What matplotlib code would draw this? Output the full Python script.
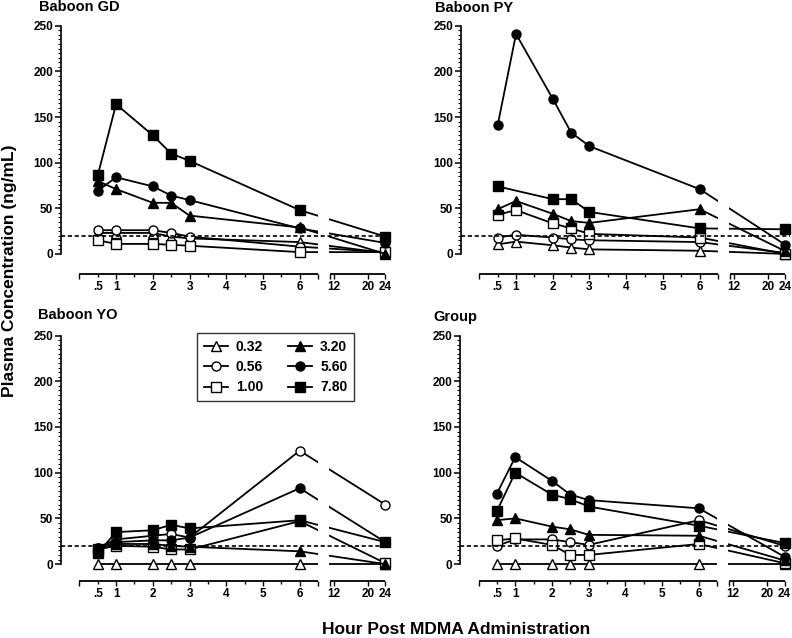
import numpy as np
import matplotlib
matplotlib.use('Agg')
import matplotlib.pyplot as plt
from matplotlib.ticker import FixedLocator, FixedFormatter

plt.rcParams['font.family'] = ['Liberation Sans', 'DejaVu Sans']
plt.rcParams['font.weight'] = 'bold'

# sample times (h) and doses
times = [0.5, 1, 2, 2.5, 3, 6, 24]
doses = ['0.32', '0.56', '1.00', '3.20', '5.60', '7.80']

# plasma concentration (ng/mL), one row per dose
gd_vals = [
    [23, 23, 23, 19, 17, 13, 1],
    [26, 26, 26, 23, 19, 8, 2],
    [15, 11, 11, 10, 9, 2, 2],
    [80, 71, 56, 56, 42, 29, 0],
    [69, 84, 74, 64, 59, 28, 12],
    [86, 164, 130, 110, 102, 48, 19],
]
py_vals = [
    [10.5, 13.5, 9.5, 7, 5, 3.5, 0],
    [18, 21, 18, 16, 15, 13, 1],
    [43, 48, 33.5, 28, 22, 18, 0],
    [49, 58, 44, 36, 34, 49, 3],
    [141, 241, 170, 133, 118, 71, 10],
    [74, np.nan, 60, 60, 46, 28, 27],
]
yo_vals = [
    [0, 0, 0, 0, 0, 0, 0],
    [18, 27, 31, 33, 29, 124, 65],
    [16, 20, 19, 16, 16, 47, 1],
    [16, 22, 22, 20, 19, 14, 0],
    [18, 24, 26, 26, 29, 83, 24],
    [12, 35, 37, 43, 39, 48, 24],
]
group_vals = [
    [0, 0, 0, 0, 0, 0, 0],
    [20, 27, 27, 24, 21, 48, 20],
    [26, 28, 21, 10, 10, 22, 1],
    [48, 50, 41, 38, 32, 31, 4],
    [77, 117, 91, 76, 70, 61, 8],
    [58, 100, 76, 71, 63, 42, 23],
]
threshold = 20

markers = ['^', 'o', 's', '^', 'o', 's']
faces = ['white', 'white', 'white', 'black', 'black', 'black']
msizes = [7, 6.5, 6.5, 7, 6.5, 6.5]

# broken x axis: 0-6.5 h linear, then 11.1-24 h compressed
A, B, GAPU, K = 6.5, 11.1, 0.33, 0.1165


def fwd(x):
    x = np.asarray(x, dtype=float)
    return np.where(x <= A, x,
                    np.where(x < B, A + (x - A) * GAPU / (B - A),
                             A + GAPU + (x - B) * K))


def inv(u):
    u = np.asarray(u, dtype=float)
    return np.where(u <= A, u,
                    np.where(u < A + GAPU, A + (u - A) * (B - A) / GAPU,
                             B + (u - A - GAPU) / K))


fig = plt.figure(figsize=(7.92, 6.38), dpi=100)

panels = [
    ('Baboon GD', gd_vals, [0.077, 0.5705, 0.415, 0.392], (-22, 252), (39, 7)),
    ('Baboon PY', py_vals, [0.582, 0.5705, 0.415, 0.392], (-22, 252), (435, 8)),
    ('Baboon YO', yo_vals, [0.077, 0.0886, 0.415, 0.3884], (-19, 252), (38, 315)),
    ('Group', group_vals, [0.581, 0.0886, 0.415, 0.3884], (-19, 252), (433, 317)),
]

axes = []
for title, vals, pos, ylim, tpos in panels:
    ax = fig.add_axes(pos)
    ax.set_xscale('function', functions=(fwd, inv))
    ax.set_xlim(float(inv(-0.5)), float(inv(8.45)))
    ax.set_ylim(*ylim)

    for i in range(len(doses)):
        y = np.array(vals[i], dtype=float)
        t = np.array(times)
        ok = np.isfinite(y)
        ax.plot(t[ok], y[ok], color='black', lw=1.3, marker=markers[i],
                ms=msizes[i], mfc=faces[i], mec='black', mew=1.0,
                label=doses[i], zorder=2 + i * 0.01, clip_on=False)

    # gap where the axis is broken
    ax.axvspan(6.55, 10.75, ymin=0.02, ymax=1, color='white', lw=0, zorder=2.8)
    ax.axhline(threshold, color='black', lw=1.2, ls=(0, (2.5, 1.6)), zorder=3)

    for s in ['top', 'right', 'bottom']:
        ax.spines[s].set_visible(False)
    ax.spines['left'].set_bounds(0, 250)
    ax.spines['left'].set_linewidth(1.2)
    # the two x-axis segments along the bottom of the axes
    ax.plot([0, A], [ylim[0], ylim[0]], color='black', lw=1.3, clip_on=False,
            solid_capstyle='butt', zorder=3)
    ax.plot([B, 24], [ylim[0], ylim[0]], color='black', lw=1.3, clip_on=False,
            solid_capstyle='butt', zorder=3)

    ax.yaxis.set_major_locator(FixedLocator([0, 50, 100, 150, 200, 250]))
    ax.yaxis.set_minor_locator(FixedLocator(np.arange(0, 251, 5)))
    ax.tick_params(axis='y', which='major', length=4, width=1.1, labelsize=8.5, pad=1.5)
    ax.tick_params(axis='y', which='minor', length=2.5, width=0.8)

    major_x = [0, 1, 2, 3, 4, 5, 6, A, B, 12, 20, 24]
    major_lab = ['', '1', '2', '3', '4', '5', '6', '', '', '12', '20', '24']
    minor_x = [0.5, 1.5, 2.5, 3.5, 4.5, 5.5]
    minor_lab = ['.5', '', '', '', '', '']
    ax.xaxis.set_major_locator(FixedLocator(major_x))
    ax.xaxis.set_major_formatter(FixedFormatter(major_lab))
    ax.xaxis.set_minor_locator(FixedLocator(minor_x))
    ax.xaxis.set_minor_formatter(FixedFormatter(minor_lab))
    ax.tick_params(axis='x', which='both', length=3.5, width=1.0, labelsize=8.5, pad=1.5)
    ax.tick_params(axis='x', which='minor', length=2.5, pad=2.5)

    fig.text(tpos[0] / 792, 1 - tpos[1] / 638, title, fontsize=10.5,
             fontweight='bold', ha='left', va='center')
    axes.append(ax)

axes[2].legend(loc='upper left', ncol=2, bbox_to_anchor=(197 / 792, 1 - 333 / 638),
               bbox_transform=fig.transFigure, borderaxespad=0, frameon=True,
               fancybox=False, edgecolor='black', handlelength=1.7,
               columnspacing=1.8, labelspacing=0.45, handletextpad=0.6,
               borderpad=0.5, prop={'weight': 'bold', 'size': 10})
axes[2].get_legend().get_frame().set_linewidth(1.0)

fig.text(10 / 792, 1 - 271 / 638, 'Plasma Concentration (ng/mL)', rotation=90,
         fontsize=12.5, fontweight='bold', ha='center', va='center')
fig.text(456 / 792, 1 - 630 / 638, 'Hour Post MDMA Administration',
         fontsize=12.5, fontweight='bold', ha='center', va='center')

fig.savefig('out.png', dpi=100)
